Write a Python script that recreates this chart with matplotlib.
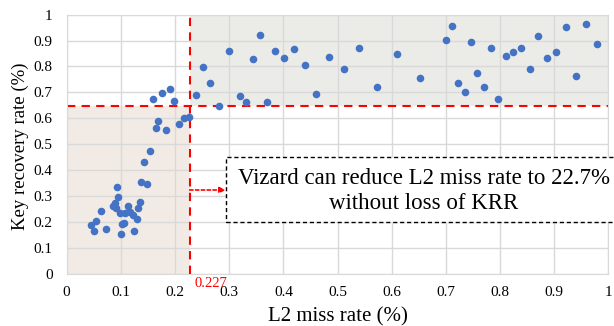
import numpy as np
import matplotlib
matplotlib.use("Agg")
from matplotlib import pyplot as plt
from matplotlib.patches import Rectangle

plt.rcParams['font.family'] = ['Liberation Serif', 'DejaVu Serif']

# L2 miss rate vs key recovery rate
miss_rate = [0.045, 0.050, 0.055, 0.063, 0.073, 0.086, 0.089, 0.091, 0.092, 0.094,
             0.098, 0.100, 0.102, 0.105, 0.108, 0.114, 0.117, 0.122, 0.124, 0.129,
             0.132, 0.135, 0.138, 0.148, 0.143, 0.153, 0.164, 0.169, 0.183, 0.207,
             0.217, 0.226,
             0.159, 0.176, 0.190, 0.198, 0.238, 0.251, 0.265, 0.281, 0.299, 0.319,
             0.331, 0.343, 0.356, 0.370, 0.385, 0.402, 0.419, 0.439, 0.460, 0.485,
             0.511, 0.540, 0.573, 0.610, 0.652, 0.701, 0.712, 0.723, 0.735, 0.746,
             0.758, 0.770, 0.783, 0.797, 0.810, 0.824, 0.839, 0.855, 0.870, 0.887,
             0.904, 0.922, 0.940, 0.959, 0.979]
krr = [0.186, 0.164, 0.204, 0.242, 0.171, 0.261, 0.271, 0.254, 0.335, 0.297,
       0.233, 0.153, 0.191, 0.196, 0.235, 0.261, 0.239, 0.226, 0.164, 0.209,
       0.252, 0.276, 0.354, 0.346, 0.431, 0.472, 0.563, 0.590, 0.556, 0.577,
       0.600, 0.604,
       0.673, 0.697, 0.714, 0.665, 0.690, 0.799, 0.736, 0.647, 0.860, 0.685,
       0.664, 0.829, 0.922, 0.664, 0.861, 0.834, 0.866, 0.806, 0.692, 0.837,
       0.789, 0.870, 0.720, 0.847, 0.757, 0.902, 0.955, 0.735, 0.703, 0.896,
       0.776, 0.720, 0.870, 0.675, 0.840, 0.857, 0.870, 0.789, 0.918, 0.834,
       0.856, 0.954, 0.763, 0.963, 0.886]

x_cut = 0.227
y_cut = 0.646
note = "Vizard can reduce L2 miss rate to 22.7%\nwithout loss of KRR"

fig = plt.figure(figsize=(6.14, 3.26), dpi=100)
ax = fig.add_axes([0.1086, 0.161, 0.8824, 0.794])

ax.add_patch(Rectangle((0, 0), x_cut, y_cut, facecolor="#f2ebe5", edgecolor="none", zorder=0.2))
ax.add_patch(Rectangle((x_cut, y_cut), 1 - x_cut, 1 - y_cut, facecolor="#ebece7", edgecolor="none", zorder=0.2))

ax.scatter(miss_rate, krr, s=30, color="#4472c4", zorder=3, linewidths=0)

ax.axvline(x_cut, color="red", ls=(0, (4, 3)), lw=1.5, zorder=2)
ax.axhline(y_cut, color="red", ls=(0, (4, 3)), lw=1.5, zorder=2)

ax.set_xlim(0, 1)
ax.set_ylim(0, 1)
ax.set_xticks(np.arange(0, 1.01, 0.1))
ax.set_yticks(np.arange(0, 1.01, 0.1))
ax.set_xticklabels(["0"] + ["%.1f" % v for v in np.arange(0.1, 0.95, 0.1)] + ["1"])
ax.set_yticklabels(["0"] + ["%.1f" % v for v in np.arange(0.1, 0.95, 0.1)] + ["1"])
ax.tick_params(length=0, labelsize=11)
ax.tick_params(axis="x", pad=9)
ax.tick_params(axis="y", pad=10)
ax.set_axisbelow(True)
ax.grid(color="#d9d9d9", lw=1)
for s in ax.spines.values():
    s.set_color("#d9d9d9")

ax.set_xlabel("L2 miss rate (%)", fontsize=15, va="center")
ax.xaxis.set_label_coords(0.5, -0.168)
ax.set_ylabel("Key recovery rate (%)", fontsize=13.5, va="center")
ax.yaxis.set_label_coords(-0.086, 0.49)

# 0.227 marker under the axis
ax.text(0.235, -0.051, "0.227", color="red", fontsize=10.5, ha="left", va="baseline",
        clip_on=False)

# note box, runs off the right edge
ax.add_patch(Rectangle((0.2935, 0.200), 0.76, 0.249, facecolor="white", edgecolor="black",
                       ls=(0, (3, 2)), lw=1, zorder=4, clip_on=False))
ax.text(0.659, 0.319, note, fontsize=16.5, ha="center", va="center", zorder=5,
        linespacing=1.3)
ax.annotate("", xy=(0.2935, 0.3226), xytext=(x_cut, 0.3226),
            arrowprops=dict(arrowstyle="-|>", color="red", ls=(0, (2, 1.5)), lw=1.2,
                            shrinkA=0, shrinkB=0, mutation_scale=9), zorder=4)

fig.savefig("out.png", dpi=100)
